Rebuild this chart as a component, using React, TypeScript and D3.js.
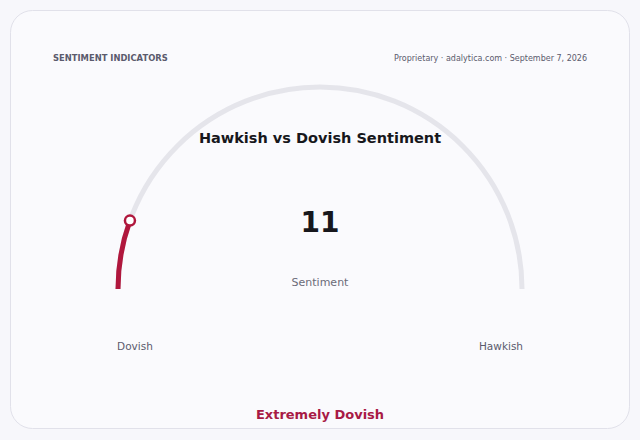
import React from "react";
import * as d3 from "d3";

// Gauge data
const gaugeTitle = "Hawkish vs Dovish Sentiment";
const gaugeValue = 11;
const gaugeDomain = [0, 100];
const gaugeEndLabels = ["Dovish", "Hawkish"];
const metricLabel = "Sentiment";
const verdictLabel = "Extremely Dovish";
const headerLeft = "SENTIMENT INDICATORS";
const headerRight = "Proprietary · adalytica.com · September 7, 2026";

const App: React.FC = () => {
  const width = 640;
  const height = 440;
  const cx = 320;
  const cy = 289;
  const radius = 202;
  const accent = "#b0173d";
  const font = "DejaVu Sans, sans-serif";

  // value -> angle (radians, d3.arc convention: 0 at top, clockwise)
  const angle = d3.scaleLinear()
    .domain(gaugeDomain)
    .range([-Math.PI / 2, Math.PI / 2]);

  const arc = d3.arc<{ start: number; end: number }>()
    .innerRadius(radius)
    .outerRadius(radius)
    .startAngle(d => d.start)
    .endAngle(d => d.end);

  const trackPath = arc({ start: angle(gaugeDomain[0]), end: angle(gaugeDomain[1]) }) ?? "";
  const valuePath = arc({ start: angle(gaugeDomain[0]), end: angle(gaugeValue) }) ?? "";

  const a = angle(gaugeValue);
  const markerX = cx + radius * Math.sin(a);
  const markerY = cy - radius * Math.cos(a);

  return (
    <div style={{ position: "absolute", left: 0, top: 0, width, height, background: "#f7f7fb" }}>
      <svg width={width} height={height} style={{ display: "block", fontFamily: font }}>
        {/* Card */}
        <rect x={10.5} y={10.5} width={619} height={418} rx={22} fill="#fafafd" stroke="#e1e1ea" />

        {/* Header */}
        <text x={53} y={61} fontSize={8.4} fontWeight="bold" fill="#5b5b6d">
          {headerLeft}
        </text>
        <text x={587} y={61} fontSize={8} fill="#5b5b6d" textAnchor="end">
          {headerRight}
        </text>

        {/* Gauge */}
        <g transform={`translate(${cx},${cy})`}>
          <path d={trackPath} fill="none" stroke="#e5e5eb" strokeWidth={5} strokeLinecap="round" />
          <path d={valuePath} fill="none" stroke={accent} strokeWidth={5} strokeLinecap="round" />
        </g>
        <circle cx={markerX} cy={markerY} r={5} fill="#ffffff" stroke={accent} strokeWidth={2.5} />

        {/* Title and value */}
        <text x={cx} y={143} fontSize={14.5} fontWeight="bold" fill="#17171c" textAnchor="middle">
          {gaugeTitle}
        </text>
        <text x={cx} y={232} fontSize={28} fontWeight="bold" fill="#17171c" textAnchor="middle">
          {gaugeValue}
        </text>
        <text x={cx} y={286} fontSize={11} fill="#6b6b78" textAnchor="middle">
          {metricLabel}
        </text>

        {/* End labels */}
        <text x={cx - radius + 17} y={350} fontSize={10.5} fill="#5b5b6d" textAnchor="middle">
          {gaugeEndLabels[0]}
        </text>
        <text x={cx + radius - 21} y={350} fontSize={10.5} fill="#5b5b6d" textAnchor="middle">
          {gaugeEndLabels[1]}
        </text>

        {/* Verdict */}
        <text x={cx} y={419} fontSize={13} fontWeight="bold" fill="#a81a45" textAnchor="middle">
          {verdictLabel}
        </text>
      </svg>
    </div>
  );
};

export default App;
